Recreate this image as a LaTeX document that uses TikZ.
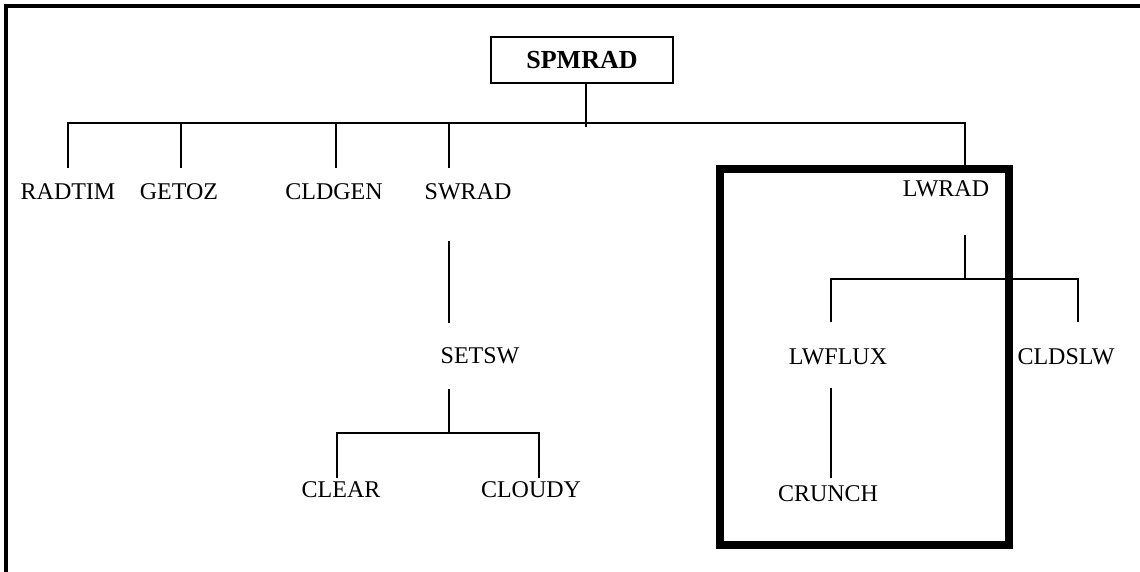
\documentclass[tikz,border=0pt]{standalone}
\usepackage{fontspec}
\setmainfont{Liberation Serif}
\begin{document}
\begin{tikzpicture}[x=1pt,y=-1pt,
  lbl/.style={inner sep=0pt,text height=15.9pt,text depth=0pt,font=\fontsize{24}{26}\selectfont},
  conn/.style={line width=1.6pt},
  frame/.style={line width=3.4pt},
  thickbox/.style={line width=8.5pt}]
\useasboundingbox (0,0) rectangle (1140,572);
% outer frame (top and left only)
\draw[frame] (6,572) -- (6,6) -- (1140,6);
% root
\node[draw,line width=1.6pt,minimum width=182pt,minimum height=46pt,inner sep=0pt,font=\fontsize{26}{28}\selectfont\bfseries] (spmrad) at (582,60) {SPMRAD};
% labels
\node[lbl] (radtim) at (68,192) {RADTIM};
\node[lbl] (getoz) at (179,192) {GETOZ};
\node[lbl] (cldgen) at (334,192) {CLDGEN};
\node[lbl] (swrad) at (468,192) {SWRAD};
\node[lbl] (lwrad) at (946,189) {LWRAD};
\node[lbl] (setsw) at (480,356) {SETSW};
\node[lbl] (lwflux) at (838,357) {LWFLUX};
\node[lbl] (cldslw) at (1066,357) {CLDSLW};
\node[lbl] (clear) at (341,490) {CLEAR};
\node[lbl] (cloudy) at (531,490) {CLOUDY};
\node[lbl] (crunch) at (828,494) {CRUNCH};
% junction coordinates
\coordinate (j0) at (586,127);
\coordinate (a1) at (68,168);
\coordinate (a2) at (181,168);
\coordinate (a3) at (336,168);
\coordinate (a4) at (449,168);
\coordinate (a5) at (965,166);
\coordinate (sw1) at (449,241);
\coordinate (sw2) at (449,323);
\coordinate (st1) at (449,389);
\coordinate (st2) at (449,433);
\coordinate (c1) at (337,478);
\coordinate (c2) at (539,478);
\coordinate (lw1) at (965,235);
\coordinate (lw2) at (965,279);
\coordinate (l1) at (831,322);
\coordinate (l2) at (1078,322);
\coordinate (lf1) at (831,388);
\coordinate (lf2) at (831,478);
% connectors
\draw[conn] (spmrad.south -| j0) -- (j0);
\draw[conn] (a1) -- (a1 |- 0,123) -- (a5 |- 0,123) -- (a5);
\draw[conn] (a2) -- (a2 |- 0,123);
\draw[conn] (a3) -- (a3 |- 0,123);
\draw[conn] (a4) -- (a4 |- 0,123);
\draw[conn] (sw1) -- (sw2);
\draw[conn] (st1) -- (st2);
\draw[conn] (c1) -- (c1 |- st2) -- (c2 |- st2) -- (c2);
\draw[conn] (lw1) -- (lw2);
\draw[conn] (l1) -- (l1 |- lw2) -- (l2 |- lw2) -- (l2);
\draw[conn] (lf1) -- (lf2);
% thick highlight box
\draw[thickbox] (720,169) rectangle (1009,545);
\end{tikzpicture}
\end{document}
